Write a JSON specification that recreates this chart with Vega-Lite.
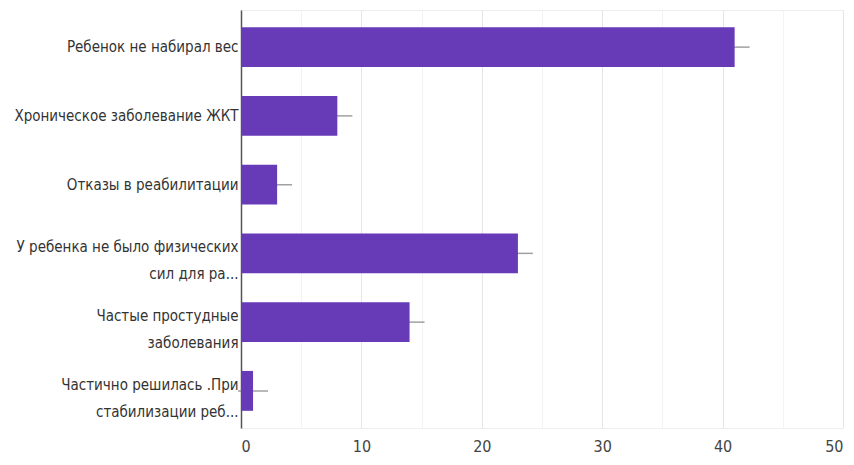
{
  "$schema": "https://vega.github.io/schema/vega-lite/v6.json",
  "autosize": "none",
  "width": 602,
  "height": 418,
  "padding": {"left": 241, "top": 10, "right": 11, "bottom": 37},
  "background": "white",
  "config": {
    "view": {"stroke": "#eeeeee"},
    "font": "'DejaVu Sans Condensed', Roboto, sans-serif"
  },
  "data": {
    "values": [
      {"label": "Ребенок не набирал вес", "count": 41},
      {"label": "Хроническое заболевание ЖКТ", "count": 8},
      {"label": "Отказы в реабилитации", "count": 3},
      {"label": "У ребенка не было физических|сил для ра...", "count": 23},
      {"label": "Частые простудные|заболевания", "count": 14},
      {"label": "Частично решилась .При|стабилизации реб...", "count": 1}
    ]
  },
  "encoding": {
    "y": {
      "field": "label",
      "type": "nominal",
      "sort": null,
      "scale": {"paddingInner": 0.42, "paddingOuter": 0.25},
      "axis": {
        "title": null,
        "ticks": false,
        "domain": true,
        "domainColor": "#555555",
        "domainWidth": 1.5,
        "labelExpr": "split(datum.label, '|')",
        "labelFont": "'DejaVu Sans Condensed', Roboto, sans-serif",
        "labelFontSize": 15,
        "labelColor": "#333333",
        "labelLineHeight": 27,
        "labelOffset": {"condition": {"test": "indexof(datum.value, '|') >= 0", "value": -6}, "value": 0},
        "labelPadding": 3,
        "labelLimit": 300
      }
    },
    "x": {
      "field": "count",
      "type": "quantitative",
      "scale": {"domain": [0, 50], "nice": false},
      "axis": {
        "title": null,
        "values": [0, 5, 10, 15, 20, 25, 30, 35, 40, 45, 50],
        "labelExpr": "datum.value % 10 === 0 ? datum.label : ''",
        "domain": false,
        "ticks": false,
        "grid": true,
        "gridColor": {"condition": {"test": "datum.value % 10 === 0", "value": "#e6e6e6"}, "value": "#f3f3f3"},
        "labelFont": "'DejaVu Sans Condensed', Roboto, sans-serif",
        "labelFontSize": 16,
        "labelColor": "#444444",
        "labelPadding": 10
      }
    }
  },
  "layer": [
    {
      "mark": {"type": "tick", "orient": "horizontal", "size": 30, "thickness": 1.5, "color": "#777777"}
    },
    {
      "mark": {"type": "bar", "color": "#673ab7"}
    }
  ]
}
